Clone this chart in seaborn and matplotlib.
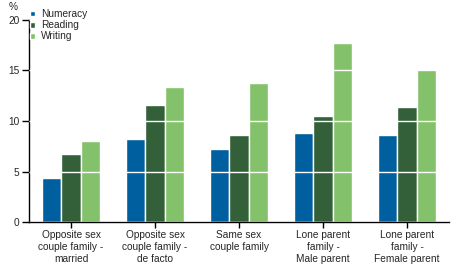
import pandas as pd
import seaborn as sns
import matplotlib.pyplot as plt

categories = ["Opposite sex\ncouple family -\nmarried",
              "Opposite sex\ncouple family -\nde facto",
              "Same sex\ncouple family",
              "Lone parent\nfamily -\nMale parent",
              "Lone parent\nfamily -\nFemale parent"]
numeracy = [4.4, 8.2, 7.2, 8.8, 8.6]
reading = [6.7, 11.6, 8.6, 10.5, 11.4]
writing = [8.0, 13.4, 13.8, 17.7, 15.1]

df = pd.concat([
    pd.DataFrame({"family": categories, "value": numeracy, "skill": "Numeracy"}),
    pd.DataFrame({"family": categories, "value": reading, "skill": "Reading"}),
    pd.DataFrame({"family": categories, "value": writing, "skill": "Writing"}),
])

palette = {"Numeracy": "#00609F", "Reading": "#336038", "Writing": "#83C26B"}

sns.set_style("white")
plt.rcParams["font.family"] = ["Liberation Sans", "DejaVu Sans"]
plt.rcParams["font.size"] = 7.3

fig = plt.figure(figsize=(4.54, 2.65), dpi=100)
ax = fig.add_axes([0.064, 0.162, 0.925, 0.763])

sns.barplot(data=df, x="family", y="value", hue="skill", palette=palette,
            width=0.7, edgecolor="white", linewidth=1, saturation=1, ax=ax)

ax.set_ylim(0, 20)
ax.set_xlim(-0.5, 4.5)
ax.set_yticks([0, 5, 10, 15, 20])
ax.set_xlabel("")
ax.set_ylabel("")
ax.grid(axis="y", color="white", linewidth=1)
ax.set_axisbelow(False)
for s in ["top", "right"]:
    ax.spines[s].set_visible(False)
for s in ["left", "bottom"]:
    ax.spines[s].set_color("black")
    ax.spines[s].set_linewidth(1)
ax.tick_params(axis="y", direction="out", length=5, width=1, color="black", pad=2, labelsize=7.3)
ax.tick_params(axis="x", direction="out", length=4, width=1, color="black", pad=2, labelsize=7.3)
ax.tick_params(axis="x", which="both", bottom=True)
ax.tick_params(axis="y", which="both", left=True)

ax.legend(loc="upper left", bbox_to_anchor=(30 / 454, 1 - 9 / 265), bbox_transform=fig.transFigure,
          frameon=False, fontsize=7.3, handlelength=0.5, handleheight=0.5,
          handletextpad=0.55, labelspacing=0.12, borderaxespad=0, borderpad=0)

fig.text(9 / 454, 1 - 2 / 265, "%", fontsize=7.3, va="top", ha="left")

plt.savefig("out.png", dpi=100)
